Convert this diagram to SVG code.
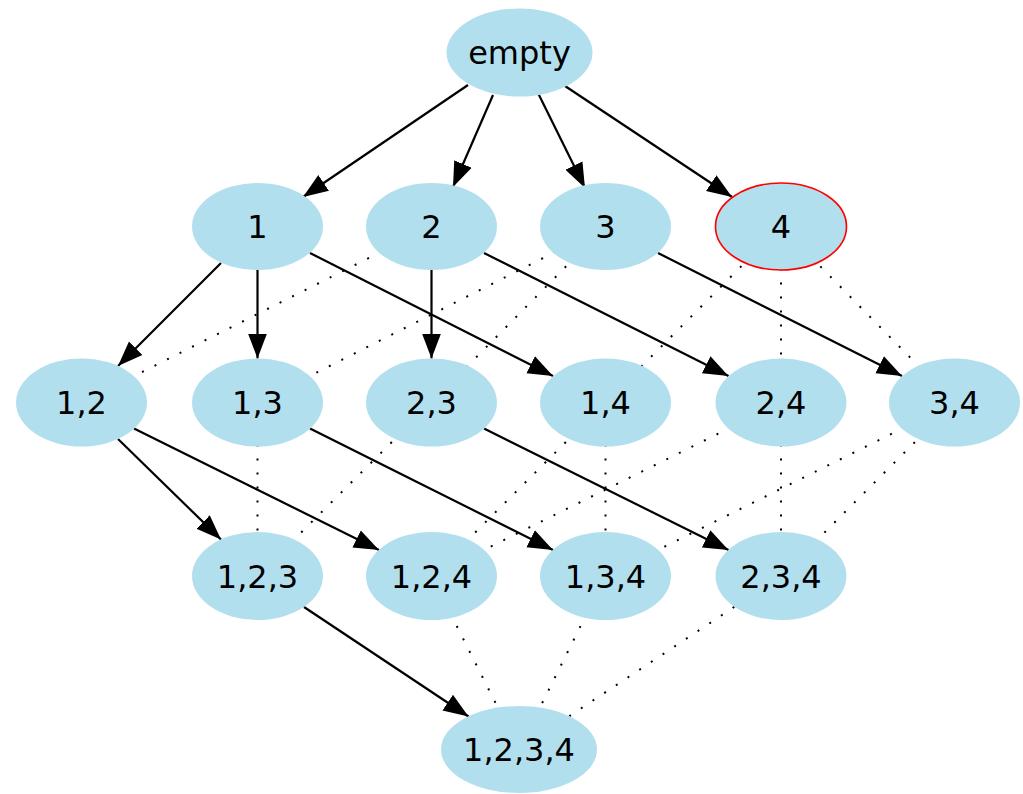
<svg xmlns="http://www.w3.org/2000/svg" width="1023" height="794" viewBox="0 0 1023 794">
  <style>
    .node ellipse { fill: #b2dfee; stroke: none; }
    .node.marked ellipse { stroke: #ff0000; stroke-width: 1.6; }
    .node text { font-family: "DejaVu Sans", "Liberation Sans", sans-serif; font-size: 32px; fill: #000; text-anchor: middle; }
    .tree { stroke: #000; stroke-width: 2.2; fill: none; marker-end: url(#arrow); }
    .cover { stroke: #000; stroke-width: 2; fill: none; stroke-dasharray: 2 12; }
  </style>
  <defs>
    <marker id="arrow" markerUnits="userSpaceOnUse" viewBox="0 -10 26 20" refX="25" refY="0" markerWidth="26" markerHeight="20" orient="auto">
      <path d="M0,-9.5 L25,0 L0,9.5 Z" fill="#000"/>
    </marker>
  </defs>

  <!-- edges: solid = spanning tree (arrowed), dotted = remaining cover relations -->
  <g id="connectors">
    <!-- dotted cover edges, centre to centre, hidden under the node fills -->
    <line class="cover" x1="431.5" y1="226.5" x2="81.5" y2="402.5"/>
    <line class="cover" x1="605.5" y1="226.5" x2="257.5" y2="402.5"/>
    <line class="cover" x1="605.5" y1="226.5" x2="431.5" y2="402.5"/>
    <line class="cover" x1="781" y1="226.5" x2="605.5" y2="402.5"/>
    <line class="cover" x1="781" y1="226.5" x2="781" y2="402.5"/>
    <line class="cover" x1="781" y1="226.5" x2="954.5" y2="402.5"/>

    <line class="cover" x1="257.5" y1="402.5" x2="257.5" y2="576"/>
    <line class="cover" x1="431.5" y1="402.5" x2="257.5" y2="576"/>
    <line class="cover" x1="605.5" y1="402.5" x2="431.5" y2="576"/>
    <line class="cover" x1="605.5" y1="402.5" x2="605.5" y2="576"/>
    <line class="cover" x1="781" y1="402.5" x2="431.5" y2="576"/>
    <line class="cover" x1="781" y1="402.5" x2="781" y2="576"/>
    <line class="cover" x1="954.5" y1="402.5" x2="605.5" y2="576"/>
    <line class="cover" x1="954.5" y1="402.5" x2="781" y2="576"/>

    <line class="cover" x1="431.5" y1="576" x2="519" y2="749.5"/>
    <line class="cover" x1="605.5" y1="576" x2="519" y2="749.5"/>
    <line class="cover" x1="781" y1="576" x2="519" y2="749.5"/>

    <!-- arrowed tree edges, clipped to the ellipse outlines -->
    <line class="tree" x1="468" y1="85" x2="303" y2="197"/>
    <line class="tree" x1="493" y1="95" x2="453" y2="187"/>
    <line class="tree" x1="538" y1="93" x2="585" y2="188"/>
    <line class="tree" x1="565" y1="86" x2="732" y2="197"/>

    <line class="tree" x1="221" y1="263" x2="118" y2="366"/>
    <line class="tree" x1="257.5" y1="270" x2="257.5" y2="358.5"/>
    <line class="tree" x1="310" y1="253" x2="553" y2="376"/>
    <line class="tree" x1="431.5" y1="270" x2="431.5" y2="358.5"/>
    <line class="tree" x1="484" y1="253" x2="728.5" y2="376"/>
    <line class="tree" x1="658" y1="253" x2="902" y2="376"/>

    <line class="tree" x1="118" y1="439" x2="221" y2="539.5"/>
    <line class="tree" x1="134" y1="428.5" x2="379" y2="550"/>
    <line class="tree" x1="310" y1="428.5" x2="553" y2="550"/>
    <line class="tree" x1="484" y1="428.5" x2="728.5" y2="550"/>

    <line class="tree" x1="304" y1="607" x2="468.5" y2="716.5"/>
  </g>

  <g id="n-empty" class="node"><ellipse cx="519.5" cy="52.5" rx="73" ry="44"/><text x="519.5" y="64">empty</text></g>

  <g id="n-1" class="node"><ellipse cx="257.5" cy="226.5" rx="65.5" ry="43.5"/><text x="257.5" y="238">1</text></g>
  <g id="n-2" class="node"><ellipse cx="431.5" cy="226.5" rx="65.5" ry="43.5"/><text x="431.5" y="238">2</text></g>
  <g id="n-3" class="node"><ellipse cx="605.5" cy="226.5" rx="65.5" ry="43.5"/><text x="605.5" y="238">3</text></g>
  <g id="n-4" class="node marked"><ellipse cx="781" cy="226.5" rx="65.5" ry="43.5"/><text x="781" y="238">4</text></g>

  <g id="n-12" class="node"><ellipse cx="81.5" cy="402.5" rx="65.5" ry="44"/><text x="81.5" y="414">1,2</text></g>
  <g id="n-13" class="node"><ellipse cx="257.5" cy="402.5" rx="65.5" ry="44"/><text x="257.5" y="414">1,3</text></g>
  <g id="n-23" class="node"><ellipse cx="431.5" cy="402.5" rx="65.5" ry="44"/><text x="431.5" y="414">2,3</text></g>
  <g id="n-14" class="node"><ellipse cx="605.5" cy="402.5" rx="65.5" ry="44"/><text x="605.5" y="414">1,4</text></g>
  <g id="n-24" class="node"><ellipse cx="781" cy="402.5" rx="65.5" ry="44"/><text x="781" y="414">2,4</text></g>
  <g id="n-34" class="node"><ellipse cx="954.5" cy="402.5" rx="65.5" ry="44"/><text x="954.5" y="414">3,4</text></g>

  <g id="n-123" class="node"><ellipse cx="257.5" cy="576" rx="65.5" ry="44"/><text x="257.5" y="587.5">1,2,3</text></g>
  <g id="n-124" class="node"><ellipse cx="431.5" cy="576" rx="65.5" ry="44"/><text x="431.5" y="587.5">1,2,4</text></g>
  <g id="n-134" class="node"><ellipse cx="605.5" cy="576" rx="65.5" ry="44"/><text x="605.5" y="587.5">1,3,4</text></g>
  <g id="n-234" class="node"><ellipse cx="781" cy="576" rx="65.5" ry="44"/><text x="781" y="587.5">2,3,4</text></g>

  <g id="n-1234" class="node"><ellipse cx="519" cy="749.5" rx="78" ry="43.5"/><text x="519" y="761">1,2,3,4</text></g>
</svg>
